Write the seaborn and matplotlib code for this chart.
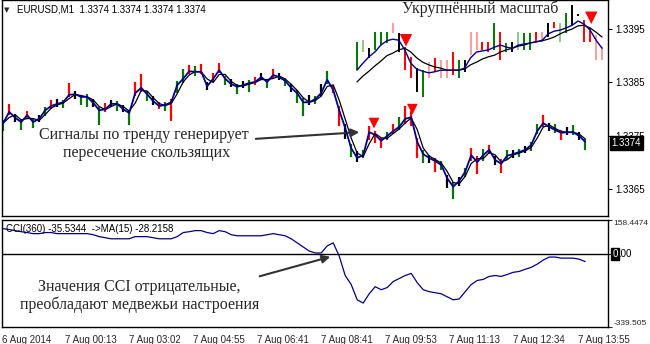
import numpy as np
import pandas as pd
import matplotlib
matplotlib.use("Agg")
import matplotlib.pyplot as plt
import seaborn as sns

sns.set_style("white")
plt.rcParams['font.family'] = ['Liberation Sans', 'DejaVu Sans']

# ---------------- data ----------------
close = [1.33774, 1.33795, 1.33784, 1.33776, 1.33789, 1.33776, 1.33782, 1.33798, 1.33806, 1.33810,
         1.33813, 1.33827, 1.33828, 1.33823, 1.33823, 1.33812, 1.33798, 1.33800, 1.33810, 1.33810,
         1.33800, 1.33793, 1.33830, 1.33840, 1.33828, 1.33815, 1.33806, 1.33808, 1.33813, 1.33845,
         1.33857, 1.33871, 1.33870, 1.33870, 1.33843, 1.33857, 1.33873, 1.33857, 1.33847, 1.33842,
         1.33845, 1.33849, 1.33851, 1.33860, 1.33851, 1.33864, 1.33860, 1.33853, 1.33840, 1.33830,
         1.33813, 1.33813, 1.33819, 1.33830, 1.33855, 1.33836, 1.33798, 1.33765, 1.33727, 1.33709,
         1.33714, 1.33757, 1.33752, 1.33741, 1.33750, 1.33759, 1.33767, 1.33782, 1.33785, 1.33739,
         1.33716, 1.33709, 1.33703, 1.33696, 1.33671, 1.33655, 1.33666, 1.33683, 1.33714, 1.33701,
         1.33714, 1.33724, 1.33705, 1.33698, 1.33713, 1.33716, 1.33720, 1.33724, 1.33733, 1.33759,
         1.33774, 1.33767, 1.33761, 1.33756, 1.33757, 1.33757, 1.33750, 1.33739]
bar_up_pips = [0.6, 1.4, 0.7, 0.5, 0.8, 0.6, 0.8, 0.6, 1.2, 0.9,
               0.5, 2.2, 0.6, 0.4, 0.5, 0.8, 0.6, 1.2, 0.8, 0.5,
               0.8, 0.6, 2.0, 2.6, 0.6, 0.9, 0.8, 0.6, 0.7, 0.8,
               1.8, 1.2, 1.0, 1.4, 0.8, 1.0, 1.4, 0.6, 0.9, 0.6,
               0.8, 0.5, 1.0, 0.8, 0.6, 1.2, 0.8, 0.6, 0.8, 0.6,
               0.8, 1.4, 0.6, 1.8, 1.6, 1.0, 0.8, 0.8, 0.8, 1.2,
               1.0, 1.2, 0.8, 0.6, 0.8, 1.4, 1.8, 2.4, 1.2, 0.8,
               0.8, 0.6, 0.6, 0.8, 0.6, 0.8, 0.8, 0.8, 1.4, 1.2,
               1.2, 1.0, 0.8, 0.8, 1.0, 0.8, 0.6, 0.8, 0.6, 1.4,
               1.6, 0.8, 1.2, 0.6, 1.0, 1.4, 0.8, 0.6]
bar_dn_pips = [1.4, 0.6, 0.8, 1.5, 0.7, 1.2, 0.6, 1.0, 0.5, 0.6,
               1.0, 0.5, 0.8, 1.6, 1.8, 0.7, 2.8, 0.5, 0.6, 1.3,
               0.6, 2.2, 0.6, 0.7, 1.2, 0.8, 0.6, 1.1, 3.5, 1.4,
               0.8, 0.6, 0.8, 0.5, 0.8, 0.6, 0.6, 1.2, 0.6, 1.4,
               0.6, 1.6, 0.6, 0.6, 1.2, 0.6, 0.6, 1.0, 0.8, 1.8,
               2.6, 0.6, 1.0, 0.6, 0.8, 0.6, 3.0, 2.0, 1.6, 0.8,
               0.6, 1.4, 1.6, 1.4, 0.8, 0.6, 0.6, 1.0, 1.6, 3.0,
               1.6, 1.0, 2.0, 1.0, 1.8, 2.2, 1.0, 1.0, 1.0, 2.2,
               1.0, 0.8, 1.0, 1.8, 0.8, 0.8, 1.0, 0.6, 1.2, 0.6,
               0.8, 0.8, 0.6, 1.4, 0.6, 0.6, 0.8, 1.6]
bar_col = ("grkgrgkgrk" "grkggkgrkg" "kgrrgkrgrg" "grgrkrrgkg" "kgrkgrkgkg"
           "gkgkgrrkgk" "grrrgrgrrr" "gkrgkgkgrr" "grkrgkgkgg" "rkgrkgkg")

cci = [118, 114, 109, 104, 100, 95, 95, 100, 100, 95,
       95, 95, 95, 95, 95, 90, 81, 76, 71, 71,
       71, 71, 81, 81, 81, 76, 71, 71, 71, 81,
       100, 104, 109, 109, 100, 95, 109, 104, 90, 85,
       85, 85, 85, 85, 90, 95, 90, 85, 71, 52,
       33, 14, 5, 5, 38, 52, -9, -100, -142, -213,
       -228, -185, -152, -166, -156, -128, -114, -100, -90, -133,
       -166, -175, -180, -185, -199, -213, -209, -175, -142, -123,
       -118, -104, -100, -104, -95, -85, -81, -71, -62, -47,
       -28, -14, -14, -19, -19, -19, -24, -35]

time_labels = ["6 Aug 2014", "7 Aug 00:13", "7 Aug 03:02", "7 Aug 04:55", "7 Aug 06:41",
               "7 Aug 08:41", "7 Aug 09:53", "7 Aug 11:13", "7 Aug 12:34", "7 Aug 13:55"]
time_pos = [-0.2, 10.3, 21.0, 31.6, 42.3, 53.0, 63.6, 74.3, 85.0, 95.8]
price_ticks = [1.3365, 1.3375, 1.3385, 1.3395]
last_price = 1.3374
cci_top = 158.4474
cci_bottom = -339.505
signal_x = [61.8, 68.2]
signal_price = [1.33774, 1.33800]

# zoomed inset
inset_fast = [1.33873, 1.33886, 1.33898, 1.33907, 1.33920, 1.33928, 1.33931, 1.33929, 1.33911, 1.33886,
              1.33875, 1.33871, 1.33868, 1.33870, 1.33873, 1.33873, 1.33873, 1.33873, 1.33877, 1.33896,
              1.33907, 1.33909, 1.33911, 1.33916, 1.33920, 1.33916, 1.33914, 1.33920, 1.33922, 1.33924,
              1.33926, 1.33929, 1.33941, 1.33946, 1.33948, 1.33952, 1.33957, 1.33965, 1.33959, 1.33948,
              1.33929, 1.33914]
inset_slow = [1.33851, 1.33862, 1.33871, 1.33881, 1.33890, 1.33900, 1.33905, 1.33911, 1.33914, 1.33907,
              1.33896, 1.33888, 1.33883, 1.33879, 1.33877, 1.33873, 1.33873, 1.33873, 1.33875, 1.33883,
              1.33888, 1.33894, 1.33898, 1.33901, 1.33907, 1.33911, 1.33914, 1.33918, 1.33920, 1.33924,
              1.33926, 1.33928, 1.33931, 1.33935, 1.33941, 1.33946, 1.33950, 1.33956, 1.33957, 1.33952,
              1.33944, 1.33935]
inset_hi = [1.33926, 1.33929, 1.33914, 1.33944, 1.33944, 1.33944, 1.33961, 1.33943, 1.33916, 1.33898,
            1.33877, 1.33873, 1.33888, 1.33896, 1.33892, 1.33892, 1.33907, 1.33892, 1.33892, 1.33944,
            1.33944, 1.33926, 1.33926, 1.33961, 1.33944, 1.33924, 1.33926, 1.33944, 1.33943, 1.33943,
            1.33944, 1.33944, 1.33961, 1.33963, 1.33961, 1.33980, 1.33995, 1.33978, 1.33967, 1.33952,
            1.33939, 1.33916]
inset_lo = [1.33873, 1.33907, 1.33896, 1.33911, 1.33920, 1.33924, 1.33943, 1.33907, 1.33873, 1.33858,
            1.33832, 1.33823, 1.33858, 1.33870, 1.33858, 1.33858, 1.33864, 1.33858, 1.33870, 1.33901,
            1.33911, 1.33911, 1.33907, 1.33911, 1.33892, 1.33907, 1.33907, 1.33911, 1.33911, 1.33911,
            1.33926, 1.33926, 1.33935, 1.33952, 1.33926, 1.33943, 1.33957, 1.33974, 1.33926, 1.33926,
            1.33892, 1.33892]
inset_col = ["g", "lg", "k", "g", "g", "g", "pk", "k", "r", "r",
             "k", "g", "pk", "r", "pk", "pk", "r", "g", "k", "pk",
             "pk", "r", "r", "g", "r", "g", "k", "lg", "g", "g",
             "r", "pk", "k", "r", "lg", "g", "k", "k", "r", "r",
             "pk", "pk"]
inset_signal_x = [8.2, 39.2]
inset_signal_price = [1.33929, 1.33971]

# ---------------- drawing ----------------
W, H = 650, 344
fig = plt.figure(figsize=(6.5, 3.44), dpi=100)
fig.patch.set_facecolor("white")


def fx(px):
    return px / W


def fy(py):
    return 1 - py / H


palette = {"r": "#FF0000", "g": "#007800", "k": "#000000", "pk": "#FF9C9C", "lg": "#8CC88C"}

ax = fig.add_axes([fx(2), fy(216), fx(608) - fx(2), fy(0) - fy(216)])
ax2 = fig.add_axes([fx(2), fy(327), fx(608) - fx(2), fy(220) - fy(327)])

df = pd.DataFrame({"i": np.arange(len(close)), "close": close,
                   "up": bar_up_pips, "dn": bar_dn_pips, "col": list(bar_col)})
df["hi"] = df["close"] + df["up"] * 1e-4
df["lo"] = df["close"] - df["dn"] * 1e-4
df["slow"] = df["close"].rolling(2, min_periods=1).mean()

ax.vlines(df["i"], df["lo"], df["hi"], colors=[palette[c] for c in df["col"]], lw=1.6, zorder=2)
sns.lineplot(data=df, x="i", y="slow", ax=ax, color="black", lw=0.9, zorder=3)
sns.lineplot(data=df, x="i", y="close", ax=ax, color="#00008C", lw=1.3, zorder=4)
sns.scatterplot(x=signal_x, y=signal_price, ax=ax, marker="v", s=60, color="#FF0000",
                edgecolor="none", zorder=5)

ax.set_xlim(-0.2, 100.8)
ax.set_ylim(1.3395 - 187 * 1.87e-5, 1.3395 + 29 * 1.87e-5)
ax.yaxis.tick_right()
ax.set_yticks(price_ticks)
ax.set_yticklabels([f"{p:.4f}" for p in price_ticks])
ax.set_xticks([])
ax.tick_params(axis="y", direction="out", length=3, labelsize=7, pad=2, colors="black")
ax.set_xlabel("")
ax.set_ylabel("")
for s in ax.spines.values():
    s.set_color("black")
    s.set_linewidth(1)
ax.annotate(f"{last_price:.4f}", xy=(1, last_price), xycoords=("axes fraction", "data"),
            xytext=(2.5, -1), textcoords="offset points", va="center", ha="left",
            color="white", fontsize=7,
            bbox=dict(boxstyle="square,pad=0.2", fc="black", ec="black"))

# CCI panel
cdf = pd.DataFrame({"i": np.arange(len(cci)), "cci": cci})
sns.lineplot(data=cdf, x="i", y="cci", ax=ax2, color="#00008C", lw=0.9)
ax2.axhline(0, color="black", lw=1)
ax2.set_xlim(-0.2, 100.8)
ax2.set_ylim(cci_bottom, cci_top)
ax2.yaxis.tick_right()
ax2.set_yticks([cci_top, 0, cci_bottom])
ax2.set_yticklabels(["158.4474", "", "-339.505"])
labs = ax2.get_yticklabels()
labs[0].set_va("top")
labs[2].set_va("bottom")
ax2.tick_params(axis="y", direction="out", length=3, labelsize=6.0, pad=1)
ax2.set_xticks(time_pos)
ax2.set_xticklabels(time_labels)
for t in ax2.get_xticklabels():
    t.set_ha("left")
ax2.tick_params(axis="x", direction="out", length=3, labelsize=7, pad=3)
ax2.set_xlabel("")
ax2.set_ylabel("")
for s in ax2.spines.values():
    s.set_color("black")
    s.set_linewidth(1)
ax2.annotate("0", xy=(1, 0), xycoords=("axes fraction", "data"), xytext=(3, 0),
             textcoords="offset points", va="center", ha="left", color="white", fontsize=7,
             bbox=dict(boxstyle="square,pad=0.1", fc="black", ec="black"))
ax2.annotate(".00", xy=(1, 0), xycoords=("axes fraction", "data"), xytext=(7, 0),
             textcoords="offset points", va="center", ha="left", color="black", fontsize=7)

fig.text(fx(6), fy(229), "CCI(360) -35.5344  ->MA(15) -28.2158", fontsize=7,
         va="center", ha="left", color="black")

# inset
axi = fig.add_axes([fx(352), fy(97), fx(607) - fx(352), fy(2) - fy(97)])
axi.set_facecolor("white")
ii = np.arange(len(inset_fast))
axi.vlines(ii, inset_lo, inset_hi, colors=[palette[c] for c in inset_col], lw=1.4)
sns.lineplot(x=ii, y=inset_slow, ax=axi, color="black", lw=0.9)
sns.lineplot(x=ii, y=inset_fast, ax=axi, color="#00008C", lw=1.0)
sns.scatterplot(x=inset_signal_x, y=inset_signal_price, ax=axi, marker="v", s=80,
                color="#FF0000", edgecolor="none", zorder=5)
axi.set_xlim(-0.83, 41.83)
axi.set_ylim(1.3395 - 68 * 1.87e-5, 1.3395 + 27 * 1.87e-5)
axi.set_xticks([])
axi.set_yticks([])
axi.set_xlabel("")
axi.set_ylabel("")
for s in axi.spines.values():
    s.set_visible(False)

serif = ["Liberation Serif", "DejaVu Serif"]
fig.text(fx(480), fy(9), "Укрупнённый масштаб", family=serif, fontsize=11.5,
         ha="center", va="center")

# header
fig.text(fx(4), fy(10), "▼", family=["DejaVu Sans"], fontsize=5, ha="left", va="center")
fig.text(fx(17), fy(10), "EURUSD,M1  1.3374 1.3374 1.3374 1.3374", fontsize=7,
         ha="left", va="center", color="black")

# annotations
fig.text(fx(144), fy(139), "Сигналы по тренду генерирует", family=serif, fontsize=11.5,
         ha="center", va="baseline")
fig.text(fx(147), fy(157), "пересечение скользящих", family=serif, fontsize=11.5,
         ha="center", va="baseline")
fig.text(fx(139), fy(291), "Значения CCI отрицательные,", family=serif, fontsize=11.5,
         ha="center", va="baseline")
fig.text(fx(140), fy(309), "преобладают медвежьи настроения", family=serif, fontsize=11.5,
         ha="center", va="baseline")

ax.annotate("", xy=(fx(362), fy(132)), xycoords="figure fraction",
            xytext=(fx(253), fy(139)), textcoords="figure fraction",
            arrowprops=dict(arrowstyle="-|>", color="#333333", lw=1.5, mutation_scale=12),
            annotation_clip=False)
ax2.annotate("", xy=(fx(333), fy(256)), xycoords="figure fraction",
             xytext=(fx(257), fy(277)), textcoords="figure fraction",
             arrowprops=dict(arrowstyle="-|>", color="#333333", lw=1.5, mutation_scale=12),
             annotation_clip=False)

fig.savefig("out.png", dpi=100, facecolor="white")
